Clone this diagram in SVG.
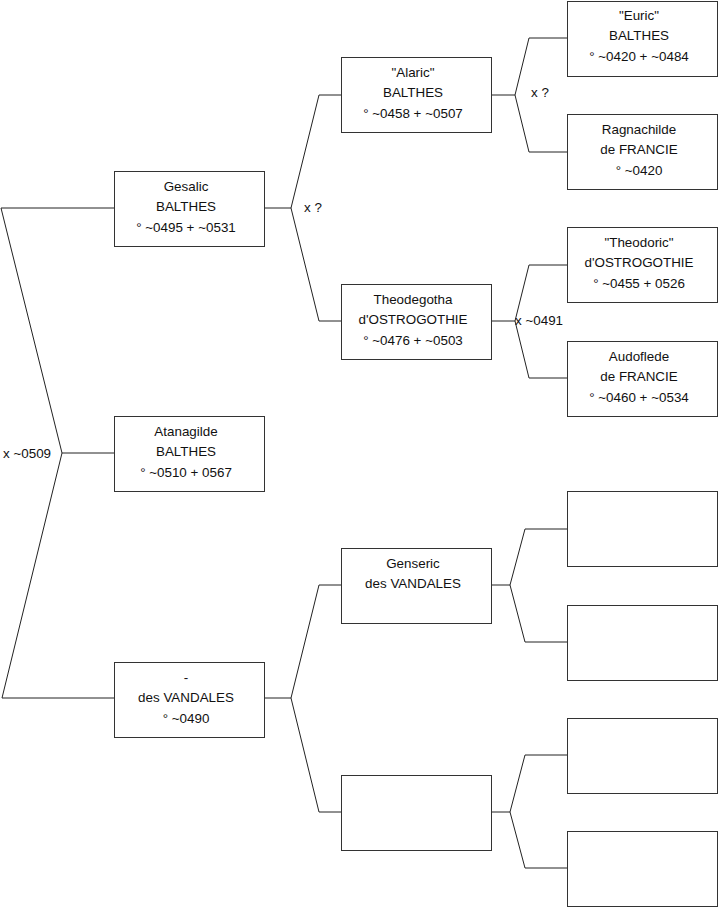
<svg xmlns="http://www.w3.org/2000/svg" width="719" height="908" viewBox="0 0 719 908">
<style>
.box{fill:#fff;stroke:#333;stroke-width:1}
.ln{fill:none;stroke:#222;stroke-width:1}
text{font-family:"Liberation Sans",Arial,sans-serif;font-size:13.4px;fill:#111}
.c{text-anchor:middle}
</style>
<rect width="719" height="908" fill="#fff"/>
<g id="connectors" class="ln">
<polyline points="114,208 1,208 62,453 2,698 114,698"/>
<line x1="62" y1="453" x2="114" y2="453"/>
<polyline points="341,95 319,95 291,208 319,321 341,321"/>
<line x1="265" y1="208" x2="291" y2="208"/>
<polyline points="567,38 529,38 515,95 529,152 567,152"/>
<line x1="492" y1="95" x2="515" y2="95"/>
<polyline points="567,265 529,265 515,321 529,378 567,378"/>
<line x1="492" y1="321" x2="515" y2="321"/>
<polyline points="341,585 319,585 291,698 319,812 341,812"/>
<line x1="265" y1="698" x2="291" y2="698"/>
<polyline points="567,529 525,529 510,585 525,642 567,642"/>
<line x1="492" y1="585" x2="510" y2="585"/>
<polyline points="567,755 525,755 510,812 525,868 567,868"/>
<line x1="492" y1="812" x2="510" y2="812"/>
</g>
<g id="labels">
<text x="3" y="458">x ~0509</text>
<text x="304" y="212">x ?</text>
<text x="531" y="97">x ?</text>
<text x="515" y="325">x ~0491</text>
</g>
<g id="gesalic"><rect class="box" x="114.5" y="171.5" width="150" height="75"/>
<text class="c" x="186" y="191">Gesalic</text><text class="c" x="186" y="211">BALTHES</text><text class="c" x="186" y="232">° ~0495 + ~0531</text></g>
<g id="atanagilde"><rect class="box" x="114.5" y="416.5" width="150" height="75"/>
<text class="c" x="186" y="436">Atanagilde</text><text class="c" x="186" y="456">BALTHES</text><text class="c" x="186" y="477">° ~0510 + 0567</text></g>
<g id="vandales"><rect class="box" x="114.5" y="662.5" width="150" height="75"/>
<text class="c" x="186" y="682">-</text><text class="c" x="186" y="702">des VANDALES</text><text class="c" x="186" y="723">° ~0490</text></g>
<g id="alaric"><rect class="box" x="341.5" y="57.5" width="150" height="75"/>
<text class="c" x="413" y="77">"Alaric"</text><text class="c" x="413" y="97">BALTHES</text><text class="c" x="413" y="118">° ~0458 + ~0507</text></g>
<g id="theodegotha"><rect class="box" x="341.5" y="284.5" width="150" height="75"/>
<text class="c" x="413" y="304">Theodegotha</text><text class="c" x="413" y="324">d'OSTROGOTHIE</text><text class="c" x="413" y="345">° ~0476 + ~0503</text></g>
<g id="genseric"><rect class="box" x="341.5" y="548.5" width="150" height="75"/>
<text class="c" x="413" y="568">Genseric</text><text class="c" x="413" y="588">des VANDALES</text></g>
<g id="empty1"><rect class="box" x="341.5" y="775.5" width="150" height="75"/></g>
<g id="euric"><rect class="box" x="567.5" y="1.5" width="150" height="75"/>
<text class="c" x="639" y="20">"Euric"</text><text class="c" x="639" y="40">BALTHES</text><text class="c" x="639" y="61">° ~0420 + ~0484</text></g>
<g id="ragnachilde"><rect class="box" x="567.5" y="114.5" width="150" height="75"/>
<text class="c" x="639" y="134">Ragnachilde</text><text class="c" x="639" y="154">de FRANCIE</text><text class="c" x="639" y="175">° ~0420</text></g>
<g id="theodoric"><rect class="box" x="567.5" y="227.5" width="150" height="75"/>
<text class="c" x="639" y="247">"Theodoric"</text><text class="c" x="639" y="267">d'OSTROGOTHIE</text><text class="c" x="639" y="288">° ~0455 + 0526</text></g>
<g id="audoflede"><rect class="box" x="567.5" y="341.5" width="150" height="75"/>
<text class="c" x="639" y="361">Audoflede</text><text class="c" x="639" y="381">de FRANCIE</text><text class="c" x="639" y="402">° ~0460 + ~0534</text></g>
<g id="empty2"><rect class="box" x="567.5" y="491.5" width="150" height="75"/></g>
<g id="empty3"><rect class="box" x="567.5" y="605.5" width="150" height="75"/></g>
<g id="empty4"><rect class="box" x="567.5" y="718.5" width="150" height="75"/></g>
<g id="empty5"><rect class="box" x="567.5" y="831.5" width="150" height="75"/></g>
</svg>
